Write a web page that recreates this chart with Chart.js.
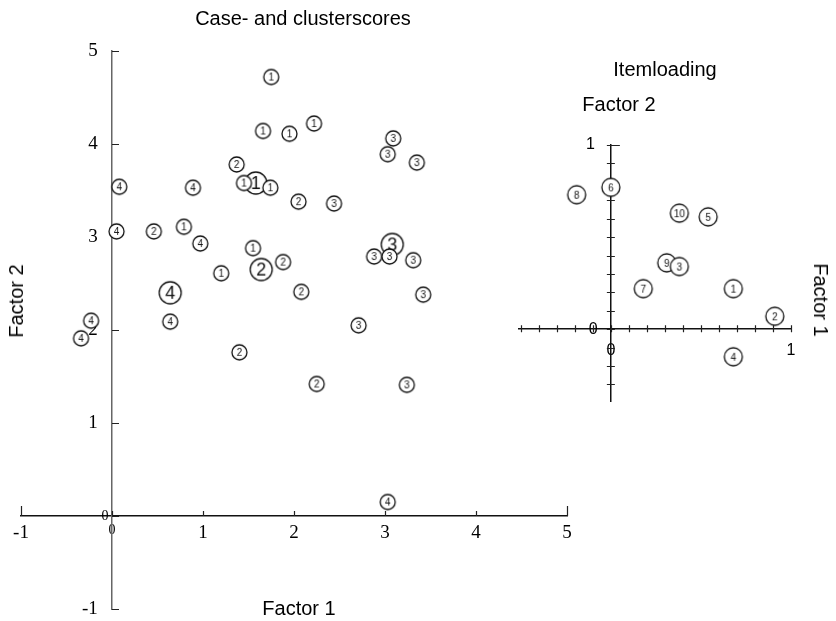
<!DOCTYPE html>
<html>
<head>
<meta charset="utf-8">
<title>Case- and clusterscores</title>
<script src="https://cdn.jsdelivr.net/npm/chart.js@4.4.1/dist/chart.umd.min.js"></script>
<style>
body { margin: 0; background: #fff; }
#wrap { position: relative; width: 836px; height: 621px; overflow: hidden; font-family: "Liberation Sans", Arial, sans-serif; color: #000; }
canvas { position: absolute; }
.lbl { position: absolute; white-space: nowrap; font-size: 20px; line-height: 24px; transform: translate(-50%, -50%); }
</style>
</head>
<body>
<div id="wrap">
  <canvas id="scores" width="836" height="621" style="left:0;top:0"></canvas>
  <canvas id="loadings" width="356" height="420" style="left:480px;top:30px"></canvas>
  <div class="lbl" style="left:303px;top:18px">Case- and clusterscores</div>
  <div class="lbl" style="left:16px;top:301px;transform:translate(-50%,-50%) rotate(-90deg)">Factor 2</div>
  <div class="lbl" style="left:299px;top:608px">Factor 1</div>
  <div class="lbl" style="left:665px;top:69px">Itemloading</div>
  <div class="lbl" style="left:619px;top:104px">Factor 2</div>
  <div class="lbl" style="left:821px;top:300px;transform:translate(-50%,-50%) rotate(90deg)">Factor 1</div>
</div>
<script>
// case scores, one pair of arrays per cluster (Factor 1, Factor 2)
var case1X = [1.75, 1.66, 1.95, 2.22, 1.45, 1.74, 0.79, 1.55, 1.20];
var case1Y = [4.72, 4.14, 4.11, 4.22, 3.58, 3.53, 3.11, 2.88, 2.61];
var case2X = [1.37, 2.05, 0.46, 1.88, 2.08, 1.40, 2.25];
var case2Y = [3.78, 3.38, 3.06, 2.73, 2.41, 1.76, 1.42];
var case3X = [3.09, 3.03, 3.35, 2.44, 2.88, 3.05, 3.31, 3.42, 2.71, 3.24];
var case3Y = [4.06, 3.89, 3.80, 3.36, 2.79, 2.79, 2.75, 2.38, 2.05, 1.41];
var case4X = [0.08, 0.89, 0.05, 0.97, -0.23, -0.34, 0.64, 3.03];
var case4Y = [3.54, 3.53, 3.06, 2.93, 2.10, 1.91, 2.09, 0.15];

// cluster centres
var clusterLabels = ['1', '2', '3', '4'];
var clusterX = [1.58, 1.64, 3.08, 0.64];
var clusterY = [3.58, 2.65, 2.92, 2.40];
var scoreTicks = [-1, 0, 1, 2, 3, 4, 5];

// item loadings
var itemLabels = ['8', '6', '10', '5', '9', '3', '7', '1', '2', '4'];
var itemX = [-0.19, 0.00, 0.38, 0.54, 0.31, 0.38, 0.18, 0.68, 0.91, 0.68];
var itemY = [0.73, 0.77, 0.63, 0.61, 0.36, 0.34, 0.22, 0.22, 0.07, -0.15];
var loadTicksX = [-0.5, -0.4, -0.3, -0.2, -0.1, 0, 0.1, 0.2, 0.3, 0.4, 0.5, 0.6, 0.7, 0.8, 0.9, 1];
var loadTicksY = [-0.3, -0.2, -0.1, 0, 0.1, 0.2, 0.3, 0.4, 0.5, 0.6, 0.7, 0.8, 0.9, 1];

var sans = '"Liberation Sans", Arial, sans-serif';
var serif = '"Liberation Serif", "Times New Roman", serif';
// axes placed at a value ignore ticks.padding, so keep a gap with spaces
var gap = '\u2002 ';
var gap2 = '\u2002\u2002';

function toPoints(xs, ys) {
    return xs.map(function (x, i) { return {x: x, y: ys[i]}; });
}

// circled number used as point style
function marker(text, r, size) {
    var c = document.createElement('canvas');
    c.width = c.height = Math.ceil(2 * r + 4);
    var g = c.getContext('2d');
    var m = c.width / 2;
    g.beginPath();
    g.arc(m, m, r, 0, Math.PI * 2);
    g.fillStyle = '#fff';
    g.fill();
    g.lineWidth = 1.3;
    g.strokeStyle = '#111';
    g.stroke();
    g.fillStyle = '#111';
    g.font = size + 'px ' + sans;
    g.textAlign = 'center';
    g.textBaseline = 'middle';
    g.fillText(text, m, m + 1);
    return c;
}

// small tick stubs on axes that cross at the origin
var stubs = {
    id: 'stubs',
    beforeDatasetsDraw: function (chart, args, o) {
        var xs = chart.scales.x, ys = chart.scales.y, g = chart.ctx;
        var x0 = xs.getPixelForValue(0), y0 = ys.getPixelForValue(0);
        g.save();
        g.strokeStyle = '#222';
        g.lineWidth = 1.2;
        g.beginPath();
        o.xTicks.forEach(function (v) {
            var px = Math.round(xs.getPixelForValue(v)) + 0.5;
            var l = o.xLen(v);
            g.moveTo(px, y0 - l[0]);
            g.lineTo(px, y0 + l[1]);
        });
        o.yTicks.forEach(function (v) {
            var py = Math.round(ys.getPixelForValue(v)) + 0.5;
            var l = o.yLen(v);
            g.moveTo(x0 - l[0], py);
            g.lineTo(x0 + l[1], py);
        });
        g.stroke();
        g.restore();
    }
};

var small = {};
var big = {};
clusterLabels.forEach(function (k) {
    small[k] = marker(k, 7.5, 10);
    big[k] = marker(k, 11, 18);
});

var scoresChart = new Chart(document.getElementById('scores'), {
    type: 'scatter',
    data: {
        datasets: [
            {data: toPoints(case1X, case1Y), pointStyle: small['1']},
            {data: toPoints(case2X, case2Y), pointStyle: small['2']},
            {data: toPoints(case3X, case3Y), pointStyle: small['3']},
            {data: toPoints(case4X, case4Y), pointStyle: small['4']},
            {data: toPoints(clusterX, clusterY), pointStyle: clusterLabels.map(function (k) { return big[k]; })}
        ]
    },
    options: {
        responsive: false,
        animation: false,
        clip: false,
        layout: {padding: {left: 21, right: 269, top: 51, bottom: 12}},
        plugins: {
            legend: {display: false},
            tooltip: {enabled: false},
            stubs: {
                xTicks: scoreTicks,
                yTicks: scoreTicks,
                xLen: function (v) { return (v === -1 || v === 5) ? [10, 0] : [5, 0]; },
                yLen: function (v) { return [0, 7]; }
            }
        },
        scales: {
            x: {
                type: 'linear',
                min: -1, max: 5,
                position: {y: 0},
                afterBuildTicks: function (s) { s.ticks = scoreTicks.map(function (v) { return {value: v}; }); },
                grid: {display: false, drawTicks: false},
                border: {display: true, color: '#111', width: 1.5},
                ticks: {
                    color: '#000',
                    padding: 6,
                    maxRotation: 0,
                    font: function (c) { return {family: serif, size: c.tick && c.tick.value === 0 ? 14 : 19}; }
                }
            },
            y: {
                type: 'linear',
                min: -1, max: 5,
                position: {x: 0},
                afterBuildTicks: function (s) { s.ticks = scoreTicks.map(function (v) { return {value: v}; }); },
                grid: {display: false, drawTicks: false},
                border: {display: true, color: '#666', width: 1.5},
                ticks: {
                    color: '#000',
                    padding: 0,
                    font: function (c) { return {family: serif, size: c.tick && c.tick.value === 0 ? 14 : 19}; },
                    callback: function (v) { return v === 0 ? '0 ' : v + gap; }
                }
            }
        }
    },
    plugins: [stubs]
});

var loadingsChart = new Chart(document.getElementById('loadings'), {
    type: 'scatter',
    data: {
        datasets: [{
            data: toPoints(itemX, itemY),
            pointStyle: itemLabels.map(function (k) { return marker(k, 9, 10); })
        }]
    },
    options: {
        responsive: false,
        animation: false,
        clip: false,
        layout: {padding: {left: 39, right: 45, top: 115, bottom: 49}},
        plugins: {
            legend: {display: false},
            tooltip: {enabled: false},
            stubs: {
                xTicks: loadTicksX,
                yTicks: loadTicksY,
                xLen: function (v) { return [4, 3]; },
                yLen: function (v) { return v === 1 ? [4, 9] : [4, 4]; }
            }
        },
        scales: {
            x: {
                type: 'linear',
                min: -0.51, max: 1,
                position: {y: 0},
                afterBuildTicks: function (s) { s.ticks = loadTicksX.map(function (v) { return {value: v}; }); },
                grid: {display: false, drawTicks: false},
                border: {display: true, color: '#111', width: 1.5},
                ticks: {
                    color: '#000',
                    padding: 12,
                    maxRotation: 0,
                    autoSkip: false,
                    font: {family: sans, size: 16},
                    callback: function (v) { return (v === 0 || v === 1) ? String(v) : ''; }
                }
            },
            y: {
                type: 'linear',
                min: -0.39, max: 1,
                position: {x: 0},
                afterBuildTicks: function (s) { s.ticks = loadTicksY.map(function (v) { return {value: v}; }); },
                grid: {display: false, drawTicks: false},
                border: {display: true, color: '#111', width: 1.5},
                ticks: {
                    color: '#000',
                    padding: 0,
                    autoSkip: false,
                    font: {family: sans, size: 16},
                    callback: function (v) { return v === 0 ? '0   ' : v === 1 ? '1' + gap2 : ''; }
                }
            }
        }
    },
    plugins: [stubs]
});
</script>
</body>
</html>
